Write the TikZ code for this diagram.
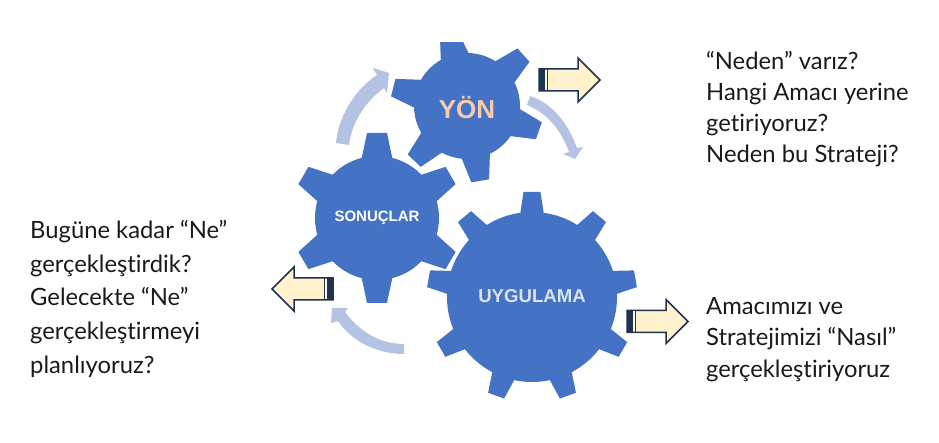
\documentclass[tikz,border=0pt]{standalone}
\usepackage{fontspec}
\setmainfont[Ligatures=NoCommon]{Lato}
\newfontfamily\labelfont{Liberation Sans}
\definecolor{gearblue}{HTML}{4472C4}
\definecolor{bandblue}{HTML}{B4C3E3}
\definecolor{creamfill}{HTML}{FFF2CC}
\definecolor{darkline}{HTML}{1F3250}
\definecolor{textdark}{HTML}{1A1A1A}
\definecolor{yonpeach}{HTML}{F8CBAD}
\definecolor{uyglight}{HTML}{DAE3F3}
\tikzset{
  gearfill/.style={fill=gearblue},
  bandfill/.style={fill=bandblue},
  bodytext/.style={text=textdark,align=left,anchor=north west,inner sep=0pt},
  gearlabel/.style={inner sep=0pt},
}
% #1 centre x, #2 centre y, #3 body R, #4 tip R, #5 base half width, #6 tip half width, #7 tooth angles
\newcommand{\gearat}[7]{%
  \foreach \toothangle in {#7}{%
    \fill[gearfill,shift={(#1,#2)},rotate=\toothangle]
      (#3-3,-#5) -- (#4,-#6) -- (#4,#6) -- (#3-3,#5) -- cycle;
  }%
  \fill[gearfill] (#1,#2) circle[radius=#3];
}
% #1 back x, #2 centre y, #3 direction (1 right, -1 left)
\newcommand{\creamarrow}[3]{%
  \begin{scope}[shift={(#1,#2)},xscale=#3]
    \draw[darkline,line width=1.5pt,fill=creamfill,line join=miter]
      (0,-11) -- (39,-11) -- (39,-22) -- (61,0) -- (39,22) -- (39,11) -- (0,11) -- cycle;
    \fill[darkline] (0,-11) rectangle (6,11);
    \fill[creamfill!60!white] (6,-10) rectangle (7.8,10);
    \fill[darkline] (7.8,-11) rectangle (8.8,11);
  \end{scope}%
}
\begin{document}
\begin{tikzpicture}[x=1pt,y=-1pt]
\useasboundingbox (0,0) rectangle (939,443);

% curved arrows
\fill[bandfill] (530,96) .. controls (552,103) and (568,123) .. (577,148)
  -- (583,147) -- (575,159) -- (563,154) -- (569,152)
  .. controls (561,130) and (547,113) .. (527,105) -- cycle;
\fill[bandfill] (404,344) .. controls (380,344) and (360,332) .. (345,312)
  -- (348,308) -- (332,308) -- (331,323) -- (338,321)
  .. controls (352,342) and (378,354) .. (404,354) -- cycle;
\fill[bandfill] (336,143) .. controls (338,118) and (354,90) .. (377,75)
  -- (373,68) -- (389,73) -- (387,93) -- (384,88)
  .. controls (365,102) and (352,122) .. (349,145) -- cycle;

% gears
\begin{scope}
  \clip (0,43) rectangle (939,443);
  \gearat{467}{106}{53}{76}{14.5}{9}{42,104,166,226,280,341}
\end{scope}
\gearat{377}{218}{62}{85}{15.5}{10}{90,30,-30,-90,-150,150}
\fill[white] (532,297) circle[radius=87];
\gearat{532}{297}{85}{105}{12}{8.5}{90,50,10,-30,-70,-110,-150,170,130}

% gear labels
\node[gearlabel,text=white,font=\labelfont\bfseries\fontsize{15}{17}\selectfont] (sonuclar) at (377,218) {SONUÇLAR};
\node[gearlabel,text=uyglight,font=\labelfont\bfseries\fontsize{18.6}{22}\selectfont] (uygulama) at (532,296) {UYGULAMA};
\node[gearlabel,text=yonpeach,font=\labelfont\bfseries\fontsize{26}{30}\selectfont] (yon) at (467,108) {YÖN};

% cream arrows
\creamarrow{539}{80}{1}
\creamarrow{333}{289}{-1}
\creamarrow{627}{321.5}{1}

% texts
\node[bodytext,font=\fontsize{23.8}{31}\selectfont] (why) at (706,51)
  {“Neden” varız?\\Hangi Amacı yerine\\getiriyoruz?\\Neden bu Strateji?};
\node[bodytext,font=\fontsize{23.8}{31.5}\selectfont] (how) at (706,297)
  {Amacımızı ve\\Stratejimizi “Nasıl”\\gerçekleştiriyoruz};
\node[bodytext,font=\fontsize{23.8}{33.7}\selectfont] (what) at (30,220)
  {Bugüne kadar “Ne”\\gerçekleştirdik?\\Gelecekte “Ne”\\gerçekleştirmeyi\\planlıyoruz?};
\end{tikzpicture}
\end{document}
